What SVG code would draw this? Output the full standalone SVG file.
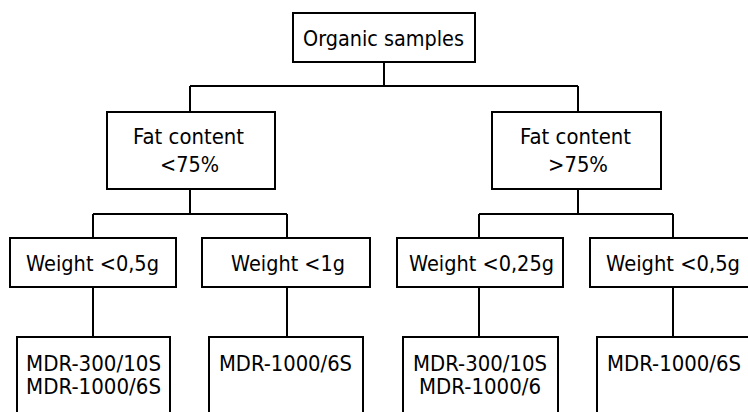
<svg xmlns="http://www.w3.org/2000/svg" width="748" height="412" viewBox="0 0 748 412">
<style>
.box{fill:#fff;stroke:#000;stroke-width:2}
.lbl{font-family:"DejaVu Sans",Verdana,sans-serif;font-size:21px;fill:#000}
.conn{fill:none;stroke:#000;stroke-width:2}
</style>
<rect width="748" height="412" fill="#fff"/>
<g id="connectors">
<path class="conn" d="M384 62V86M190 86H578M190 86V112M578 86V112M190 189V214M93 214H287M93 214V238M287 214V238M578 189V214M479 214H673M479 214V238M673 214V238M93 287V337M287 287V337M479 287V337M673 287V337"/>
</g>
<g id="n-root">
<rect class="box" x="293" y="13" width="182" height="49"/>
<text class="lbl" x="303" y="46" textLength="161" lengthAdjust="spacingAndGlyphs">Organic samples</text>
</g>
<g id="n-fat-lt">
<rect class="box" x="107" y="112" width="168" height="77"/>
<text class="lbl" x="133" y="144" textLength="111" lengthAdjust="spacingAndGlyphs">Fat content</text>
<text class="lbl" x="160" y="172" textLength="59" lengthAdjust="spacingAndGlyphs">&lt;75%</text>
</g>
<g id="n-fat-gt">
<rect class="box" x="492" y="112" width="169" height="77"/>
<text class="lbl" x="520" y="144" textLength="111" lengthAdjust="spacingAndGlyphs">Fat content</text>
<text class="lbl" x="548" y="172" textLength="60" lengthAdjust="spacingAndGlyphs">&gt;75%</text>
</g>
<g id="n-w1">
<rect class="box" x="10" y="238" width="166" height="49"/>
<text class="lbl" x="26" y="271" textLength="133" lengthAdjust="spacingAndGlyphs">Weight &lt;0,5g</text>
</g>
<g id="n-w2">
<rect class="box" x="202" y="238" width="168" height="49"/>
<text class="lbl" x="231" y="271" textLength="114" lengthAdjust="spacingAndGlyphs">Weight &lt;1g</text>
</g>
<g id="n-w3">
<rect class="box" x="397" y="238" width="166" height="49"/>
<text class="lbl" x="409" y="271" textLength="145" lengthAdjust="spacingAndGlyphs">Weight &lt;0,25g</text>
</g>
<g id="n-w4">
<rect class="box" x="590" y="238" width="170" height="49"/>
<text class="lbl" x="606" y="271" textLength="134" lengthAdjust="spacingAndGlyphs">Weight &lt;0,5g</text>
</g>
<g id="n-m1">
<rect class="box" x="17" y="337" width="153" height="100"/>
<text class="lbl" x="26" y="371" textLength="135" lengthAdjust="spacingAndGlyphs">MDR-300/10S</text>
<text class="lbl" x="26" y="394" textLength="135" lengthAdjust="spacingAndGlyphs">MDR-1000/6S</text>
</g>
<g id="n-m2">
<rect class="box" x="209" y="337" width="154" height="100"/>
<text class="lbl" x="219" y="371" textLength="133" lengthAdjust="spacingAndGlyphs">MDR-1000/6S</text>
</g>
<g id="n-m3">
<rect class="box" x="403" y="337" width="155" height="100"/>
<text class="lbl" x="413" y="371" textLength="134" lengthAdjust="spacingAndGlyphs">MDR-300/10S</text>
<text class="lbl" x="419" y="394" textLength="122" lengthAdjust="spacingAndGlyphs">MDR-1000/6</text>
</g>
<g id="n-m4">
<rect class="box" x="597" y="337" width="163" height="100"/>
<text class="lbl" x="607" y="371" textLength="134" lengthAdjust="spacingAndGlyphs">MDR-1000/6S</text>
</g>
</svg>
